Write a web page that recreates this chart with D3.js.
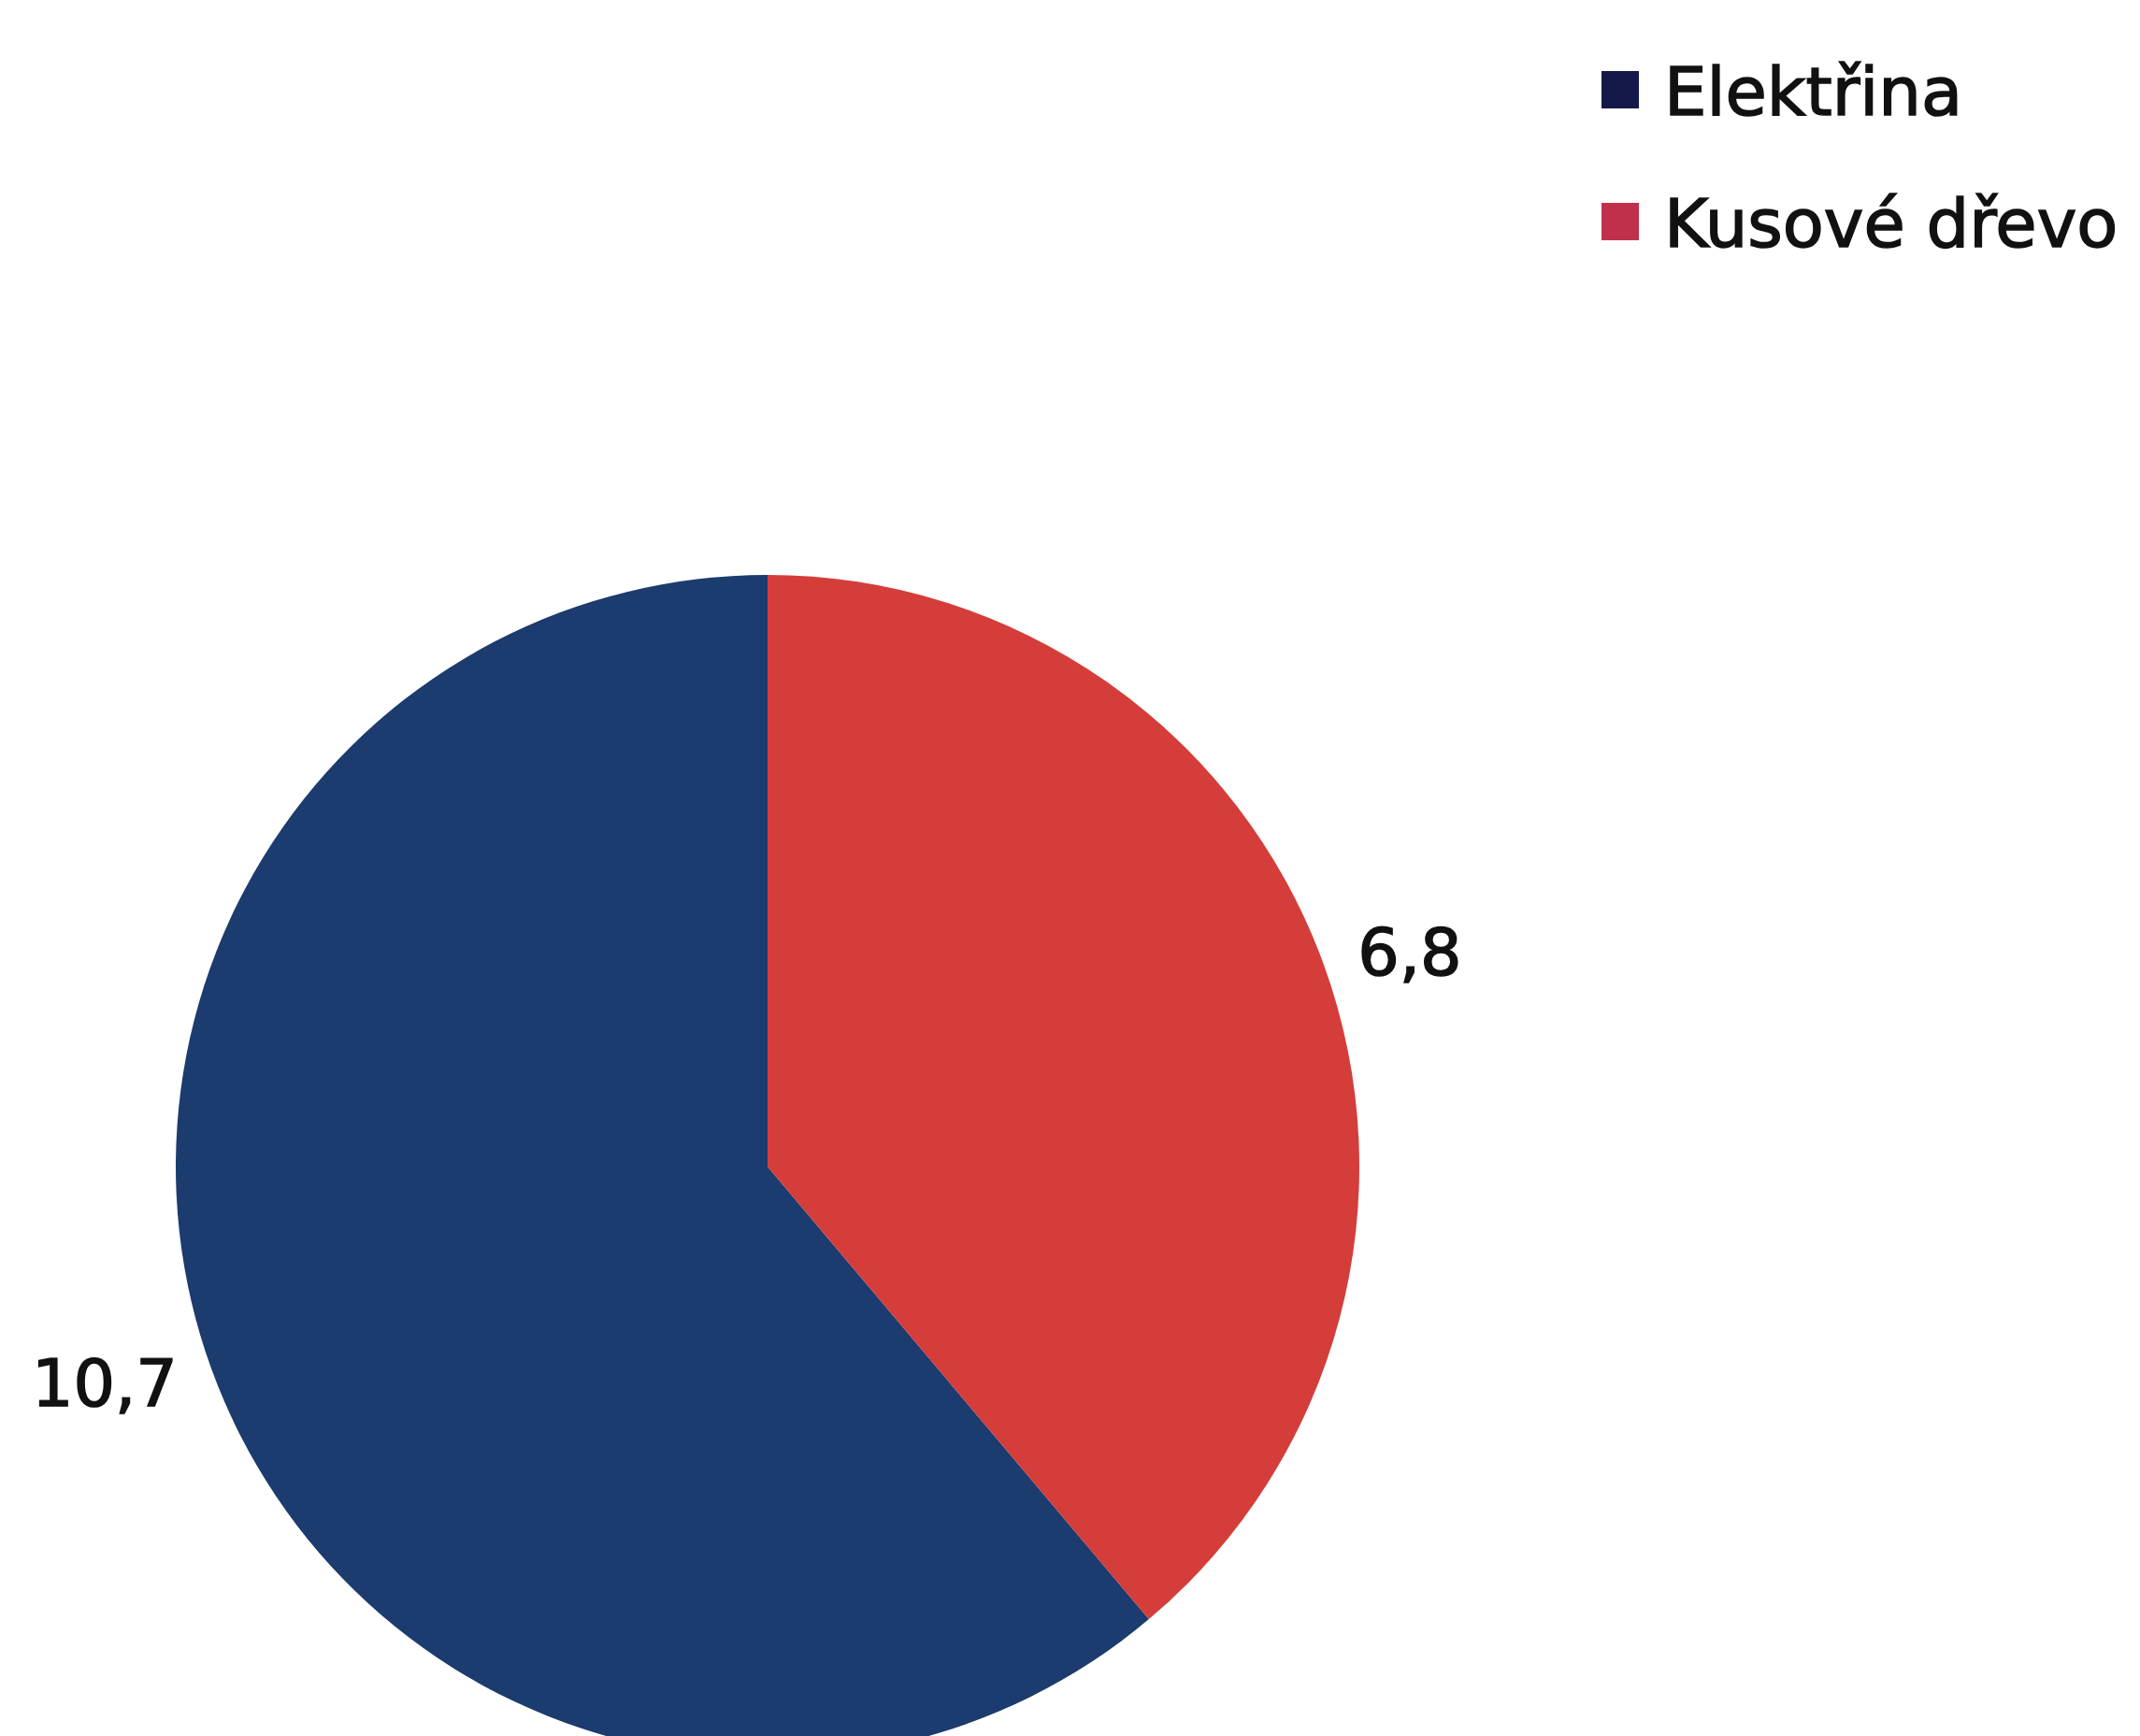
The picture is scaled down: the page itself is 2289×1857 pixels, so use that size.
<!DOCTYPE html>
<html>
<head>
<meta charset="utf-8">
<script src="https://cdn.jsdelivr.net/npm/d3@7"></script>
<style>
html,body{margin:0;padding:0;background:#fff;}
svg{display:block;}
</style>
</head>
<body>
<script>
const categories = ["Elektřina", "Kusové dřevo"];
const values = [10.7, 6.8];
const labels = ["10,7", "6,8"];
const colors = ["#1c3b6e", "#d43d3a"];
const legendColors = ["#14194a", "#c0304a"];

const W = 2289, H = 1857;
const cx = 821, cy = 1248, R = 633, labelR = 672;
const fontSize = 70;
const FONT = "DejaVu Sans, Verdana, sans-serif";

const svg = d3.select("body").append("svg").attr("width", W).attr("height", H);
svg.append("rect").attr("width", W).attr("height", H).attr("fill", "#fff");

const pie = d3.pie().sort(null).startAngle(0).endAngle(-2 * Math.PI);
const arcs = pie(values);
const arc = d3.arc().innerRadius(0).outerRadius(R);
const labelArc = d3.arc().innerRadius(labelR).outerRadius(labelR);

const color = d3.scaleOrdinal().domain(categories).range(colors);
const legendColor = d3.scaleOrdinal().domain(categories).range(legendColors);

const g = svg.append("g").attr("transform", `translate(${cx},${cy})`);
g.selectAll("path").data(arcs).join("path")
  .attr("d", arc)
  .attr("fill", (d, i) => color(categories[i]));

g.selectAll("text").data(arcs).join("text")
  .attr("x", d => labelArc.centroid(d)[0])
  .attr("y", d => labelArc.centroid(d)[1] + fontSize * 0.36)
  .attr("text-anchor", d => labelArc.centroid(d)[0] < 0 ? "end" : "start")
  .attr("font-family", FONT)
  .attr("font-size", fontSize)
  .attr("fill", "#111")
  .attr("stroke", "#111")
  .attr("stroke-width", 1.6)
  .text((d, i) => labels[i]);

// Legend
const legendY = d3.scalePoint().domain(categories).range([96, 237]);
const lg = svg.append("g");
const items = lg.selectAll("g").data(categories).join("g")
  .attr("transform", d => `translate(1713,${legendY(d)})`);
items.append("rect")
  .attr("x", 0).attr("y", -20).attr("width", 40).attr("height", 40)
  .attr("fill", d => legendColor(d));
items.append("text")
  .attr("x", 67).attr("y", 27)
  .attr("font-family", FONT)
  .attr("font-size", 72)
  .attr("fill", "#111")
  .attr("stroke", "#111")
  .attr("stroke-width", 1.6)
  .text(d => d);
</script>
</body>
</html>
